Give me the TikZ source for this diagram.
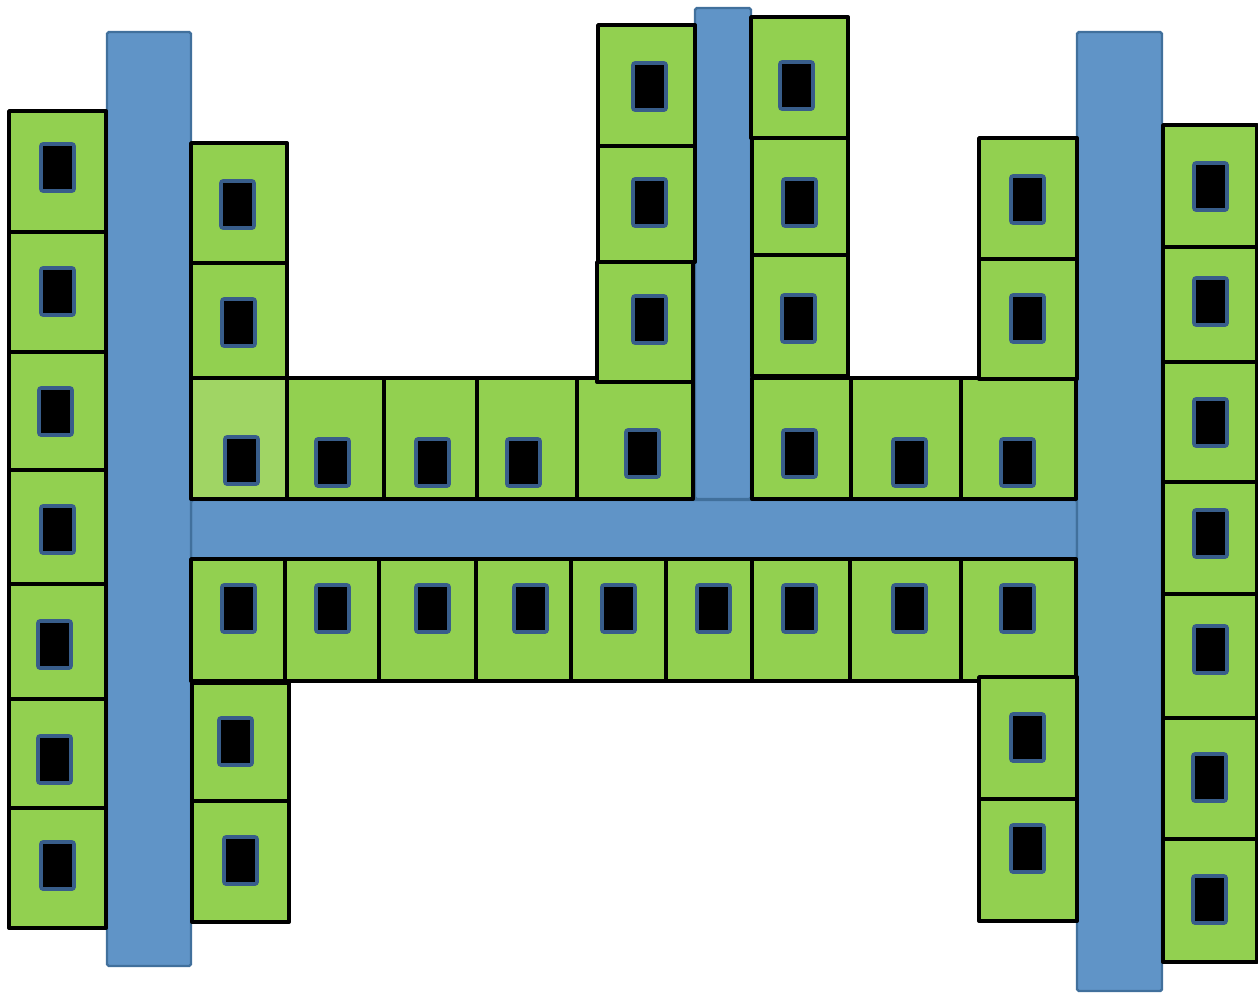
\documentclass[tikz,border=0pt]{standalone}
\usepackage{tikz}
\usetikzlibrary{positioning, backgrounds}

\definecolor{barblue}{RGB}{96,148,199}
\definecolor{baredge}{RGB}{65,112,156}
\definecolor{flatgreen}{RGB}{146,208,80}
\definecolor{flatlight}{RGB}{160,213,100}
\definecolor{winedge}{RGB}{56,93,138}

\begin{document}
\begin{tikzpicture}[
    x=0.02cm, y=-0.02cm,
    bar/.style={draw=baredge, fill=barblue, line width=1.4pt, rounded corners=1pt},
    cell/.style={draw=black, fill=flatgreen, line width=2.2pt, line join=round},
    cell_light/.style={draw=black, fill=flatlight, line width=2.2pt, line join=round},
    window/.style={draw=winedge, fill=black, line width=2.1pt, rounded corners=1.2pt, shift={(1,1)}}
]
\useasboundingbox (0,0) rectangle (1258,994);

% Corridors
\draw[bar] (191,500) rectangle (1077,559);
\draw[bar] (107,32) rectangle (191,966);
\draw[bar] (695,8) rectangle (751,499);
\draw[bar] (1077,32) rectangle (1162,991);

% Left column
\draw[cell] (9,111) rectangle (106,232);   \draw[window] (40,143) rectangle ++(33,47);
\draw[cell] (9,232) rectangle (106,352);   \draw[window] (40,267) rectangle ++(33,47);
\draw[cell] (9,352) rectangle (106,470);   \draw[window] (38,387) rectangle ++(33,47);
\draw[cell] (9,470) rectangle (106,584);   \draw[window] (40,505) rectangle ++(33,47);
\draw[cell] (9,584) rectangle (106,699);   \draw[window] (37,620) rectangle ++(33,47);
\draw[cell] (9,699) rectangle (106,808);   \draw[window] (37,735) rectangle ++(33,47);
\draw[cell] (9,808) rectangle (106,928);   \draw[window] (40,841) rectangle ++(33,47);

% Upper left wing
\draw[cell] (191,143) rectangle (287,263);  \draw[window] (220,180) rectangle ++(33,47);
\draw[cell] (191,263) rectangle (287,378);  \draw[window] (221,298) rectangle ++(33,47);

% Upper row along the corridor
\draw[cell_light] (191,378) rectangle (287,499); \draw[window] (224,436) rectangle ++(33,47);
\draw[cell] (287,378) rectangle (384,499);  \draw[window] (315,438) rectangle ++(33,47);
\draw[cell] (384,378) rectangle (477,499);  \draw[window] (415,438) rectangle ++(33,47);
\draw[cell] (477,378) rectangle (577,499);  \draw[window] (506,438) rectangle ++(33,47);
\draw[cell] (577,378) rectangle (693,499);  \draw[window] (625,429) rectangle ++(33,47);
\draw[cell] (752,378) rectangle (851,499);  \draw[window] (782,429) rectangle ++(33,47);
\draw[cell] (851,378) rectangle (961,499);  \draw[window] (892,438) rectangle ++(33,47);
\draw[cell] (961,378) rectangle (1076,499); \draw[window] (1000,438) rectangle ++(33,47);

% Middle tower, left side
\draw[cell] (598,25) rectangle (695,146);   \draw[window] (632,62) rectangle ++(33,47);
\draw[cell] (598,146) rectangle (695,262);  \draw[window] (632,178) rectangle ++(33,47);
\draw[cell] (597,262) rectangle (693,382);  \draw[window] (632,295) rectangle ++(33,47);

% Middle tower, right side
\draw[cell] (751,17) rectangle (848,138);   \draw[window] (779,61) rectangle ++(33,47);
\draw[cell] (752,138) rectangle (848,255);  \draw[window] (782,178) rectangle ++(33,47);
\draw[cell] (752,255) rectangle (848,376);  \draw[window] (781,294) rectangle ++(33,47);

% Upper right wing
\draw[cell] (979,138) rectangle (1077,259); \draw[window] (1010,175) rectangle ++(33,47);
\draw[cell] (979,259) rectangle (1077,379); \draw[window] (1010,294) rectangle ++(33,47);

% Lower row along the corridor
\draw[cell] (191,559) rectangle (285,681);  \draw[window] (221,584) rectangle ++(33,47);
\draw[cell] (285,559) rectangle (379,681);  \draw[window] (315,584) rectangle ++(33,47);
\draw[cell] (379,559) rectangle (476,681);  \draw[window] (415,584) rectangle ++(33,47);
\draw[cell] (476,559) rectangle (571,681);  \draw[window] (513,584) rectangle ++(33,47);
\draw[cell] (571,559) rectangle (666,681);  \draw[window] (601,584) rectangle ++(33,47);
\draw[cell] (666,559) rectangle (752,681);  \draw[window] (696,584) rectangle ++(33,47);
\draw[cell] (752,559) rectangle (850,681);  \draw[window] (782,584) rectangle ++(33,47);
\draw[cell] (850,559) rectangle (961,681);  \draw[window] (892,584) rectangle ++(33,47);
\draw[cell] (961,559) rectangle (1076,681); \draw[window] (1000,584) rectangle ++(33,47);

% Lower left wing
\draw[cell] (192,683) rectangle (289,801);  \draw[window] (218,717) rectangle ++(33,47);
\draw[cell] (192,801) rectangle (289,922);  \draw[window] (223,836) rectangle ++(33,47);

% Lower right wing
\draw[cell] (979,677) rectangle (1077,799); \draw[window] (1010,713) rectangle ++(33,47);
\draw[cell] (979,799) rectangle (1077,921); \draw[window] (1010,824) rectangle ++(33,47);

% Right column
\draw[cell] (1163,125) rectangle (1257,247); \draw[window] (1193,162) rectangle ++(33,47);
\draw[cell] (1163,247) rectangle (1257,362); \draw[window] (1193,277) rectangle ++(33,47);
\draw[cell] (1163,362) rectangle (1257,482); \draw[window] (1193,398) rectangle ++(33,47);
\draw[cell] (1163,482) rectangle (1257,594); \draw[window] (1193,509) rectangle ++(33,47);
\draw[cell] (1163,594) rectangle (1257,718); \draw[window] (1193,625) rectangle ++(33,47);
\draw[cell] (1163,718) rectangle (1257,839); \draw[window] (1192,753) rectangle ++(33,47);
\draw[cell] (1163,839) rectangle (1257,962); \draw[window] (1192,875) rectangle ++(33,47);

\end{tikzpicture}
\end{document}
